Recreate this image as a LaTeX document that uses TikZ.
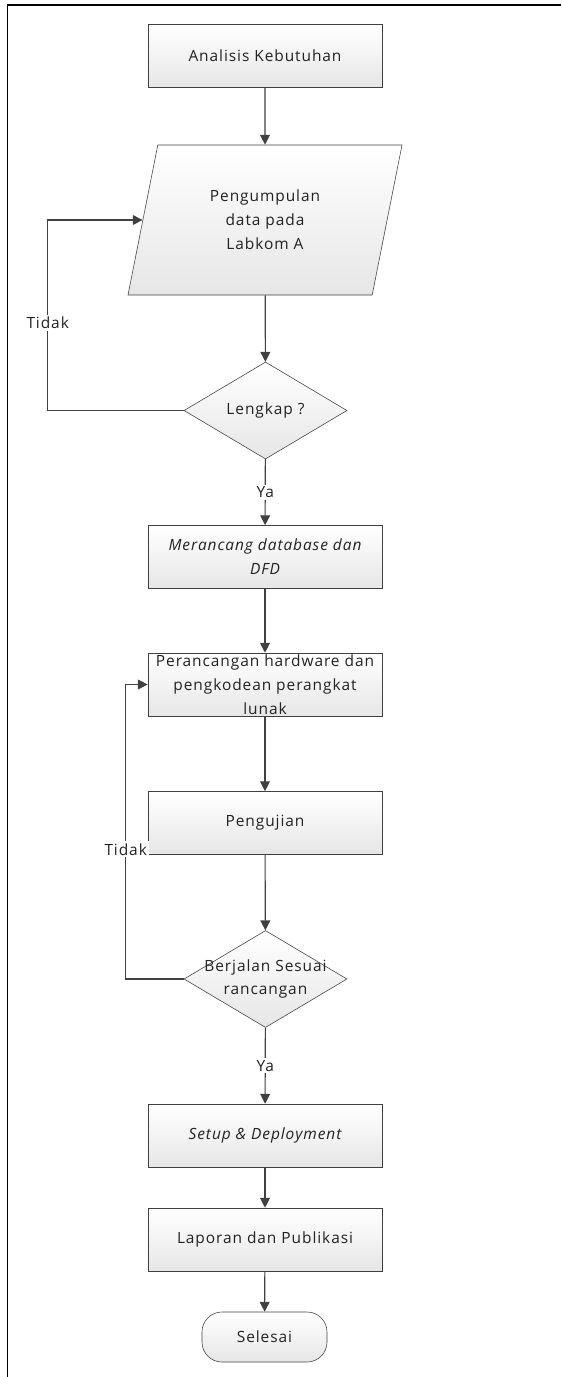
\documentclass[tikz,border=0pt]{standalone}
\usepackage{fontspec}
\setmainfont{Open Sans}[LetterSpace=6]
\usetikzlibrary{arrows.meta, shapes.geometric, positioning}
\definecolor{garis}{HTML}{404040}
\definecolor{isi}{HTML}{E6E6E6}
\definecolor{teks}{HTML}{222222}
\newcommand{\hurufalur}{\fontsize{11}{17}\selectfont}

\begin{document}
\begin{tikzpicture}[x=0.025cm, y=-0.025cm,
                    font=\hurufalur, text=teks,
                    proses/.style={rectangle, draw=garis, top color=white, bottom color=isi,
                                   minimum width=5.85cm, minimum height=1.575cm, align=center, inner sep=1pt},
                    data/.style={trapezium, trapezium left angle=63.43, trapezium right angle=116.57,
                                 trapezium stretches body, draw=garis, top color=white, bottom color=isi,
                                 minimum width=6.85cm, minimum height=3.75cm, align=center, inner sep=0pt},
                    putusan/.style={diamond, draw=garis, top color=white, bottom color=isi,
                                    minimum width=4.075cm, minimum height=2.425cm, inner sep=0pt, align=center},
                    akhir/.style={rectangle, rounded corners=0.5cm, draw=garis, top color=white, bottom color=isi,
                                  minimum width=3.125cm, minimum height=1.25cm},
                    panah/.style={draw=garis, line width=0.8pt, -{Triangle[length=7pt, width=7pt]}},
                    ket/.style={fill=white, inner sep=1.5pt}
                ]
                \useasboundingbox (0,0) rectangle (561,1377);
                \draw[line width=1.1pt] (7.5,1377) -- (7.5,5) -- (561,5);

                \node[proses] (analisis) at (265,55.5) {Analisis Kebutuhan};
                \node[data] (kumpul) at (265,220) {Pengumpulan\\data pada\\Labkom A};
                \node[putusan] (lengkap) at (265.5,410.5) {Lengkap ?};
                \node[proses, font=\hurufalur\itshape] (db) at (265,557) {Merancang database dan\\DFD};
                \node[proses] (hw) at (265,684.5) {};
                \node[align=center] (hwteks) at (hw) {Perancangan hardware dan\\pengkodean perangkat\\lunak};
                \node[proses] (uji) at (265,823) {Pengujian};
                \node[putusan] (sesuai) at (265.5,979) {};
                \node[align=center] (sesuaiteks) at (sesuai) {Berjalan Sesuai\\rancangan};
                \node[proses, font=\hurufalur\itshape] (setup) at (265,1135.5) {Setup \& Deployment};
                \node[proses] (lapor) at (265,1239.5) {Laporan dan Publikasi};
                \node[akhir] (selesai) at (264.5,1337) {Selesai};

                \draw[panah] (analisis) -- (kumpul);
                \draw[panah] (kumpul) -- (lengkap);
                \draw[panah] (lengkap) -- node[ket] {Ya} (db);
                \draw[panah] (lengkap.west) -- ++(-136,0) |- node[ket, pos=0.23] {Tidak} (kumpul.left side);
                \draw[panah] (db) -- (hw);
                \draw[panah] (hw) -- (uji);
                \draw[panah] (uji) -- (sesuai);
                \draw[panah] (sesuai.west) -- ++(-58,0) |- node[ket, pos=0.22] {Tidak} (hw.west);
                \draw[panah] (sesuai) -- node[ket] {Ya} (setup);
                \draw[panah] (setup) -- (lapor);
                \draw[panah] (lapor) -- (selesai);
            \end{tikzpicture}
\end{document}
